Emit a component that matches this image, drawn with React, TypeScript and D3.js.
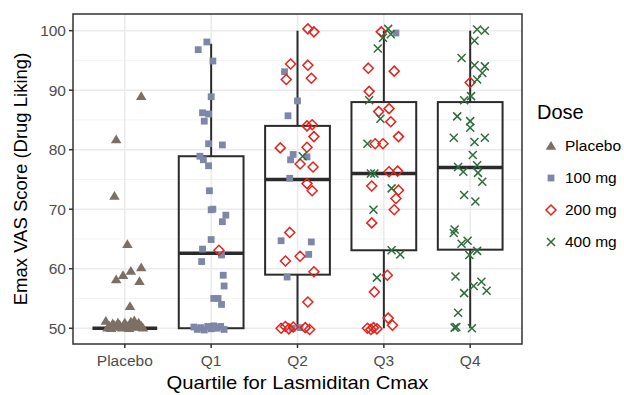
import * as d3 from 'd3'

const categories = ['Placebo', 'Q1', 'Q2', 'Q3', 'Q4']
const doses = ['Placebo', '100 mg', '200 mg', '400 mg']
const doseColors = ['#7d6f65', '#7f87a8', '#e3231d', '#2d6c3b']

// boxplot stats per category (ymin, lower hinge, median, upper hinge, ymax)
const boxMin = [50, 50, 50, 50, 50]
const boxLower = [50, 50, 59, 63.1, 63.2]
const boxMedian = [50, 62.6, 75, 76, 77]
const boxUpper = [50, 78.9, 84, 88, 88]
const boxMax = [50, 97.8, 100, 100, 100]

// jittered points: [category index, dose index, jitter (category units), score]
const placeboPts: number[][] = [
  [0, 0, 0.19, 89.0], [0, 0, -0.10, 81.7], [0, 0, -0.12, 72.2], [0, 0, 0.03, 64.1],
  [0, 0, -0.10, 58.2], [0, 0, -0.02, 58.9], [0, 0, 0.07, 59.6], [0, 0, 0.19, 60.2],
  [0, 0, 0.17, 57.9], [0, 0, 0.06, 53.7],
  [0, 0, -0.22, 51.2], [0, 0, -0.18, 50.4], [0, 0, -0.14, 50.8], [0, 0, -0.10, 50.2],
  [0, 0, -0.06, 50.6], [0, 0, -0.03, 50.1], [0, 0, 0.0, 50.9], [0, 0, 0.03, 50.3],
  [0, 0, 0.07, 51.1], [0, 0, 0.10, 50.5], [0, 0, 0.13, 50.2], [0, 0, 0.16, 50.9],
  [0, 0, 0.19, 50.4], [0, 0, 0.21, 50.1], [0, 0, -0.20, 50.1], [0, 0, -0.08, 50.9],
  [0, 0, 0.11, 51.3], [0, 0, -0.16, 50.0], [0, 0, 0.05, 50.0], [0, 0, -0.12, 50.5],
  [0, 0, 0.08, 50.3], [0, 0, -0.01, 50.6]
]
const q1Pts: number[][] = [
  [1, 1, -0.15, 96.8], [1, 1, -0.05, 98.1], [1, 1, 0.02, 94.9], [1, 1, 0, 88.9],
  [1, 1, -0.10, 86.2], [1, 1, -0.03, 86.0], [1, 1, -0.08, 84.8], [1, 1, -0.03, 81.0],
  [1, 1, 0.13, 80.8], [1, 1, -0.13, 78.9], [1, 1, -0.09, 78.3], [1, 1, -0.03, 77.3],
  [1, 1, -0.02, 73.1], [1, 1, 0, 69.9], [1, 1, 0.02, 70.0], [1, 1, 0.17, 69.0],
  [1, 1, 0.13, 67.9], [1, 1, 0, 64.9], [1, 1, -0.10, 63.3], [1, 1, 0.12, 62.3],
  [1, 1, -0.11, 61.2], [1, 1, 0.14, 58.9], [1, 1, 0.15, 57.1], [1, 1, 0.03, 55.0],
  [1, 1, 0.08, 55.0], [1, 1, 0.12, 54.0],
  [1, 1, -0.20, 50.2], [1, 1, -0.16, 49.8], [1, 1, -0.12, 50.1], [1, 1, -0.08, 49.7],
  [1, 1, -0.04, 50.3], [1, 1, 0, 49.9], [1, 1, 0.03, 50.4], [1, 1, 0.07, 50.0],
  [1, 1, 0.11, 50.3], [1, 1, 0.15, 49.8],
  [1, 2, 0.09, 63.1]
]
const q2Pts: number[][] = [
  [2, 1, -0.15, 93.1], [2, 1, 0, 88.2], [2, 1, -0.11, 85.7], [2, 1, -0.05, 79.2],
  [2, 1, -0.08, 78.3], [2, 1, 0.11, 78.8], [2, 1, -0.09, 75.2], [2, 1, -0.19, 64.7],
  [2, 1, 0.16, 64.5], [2, 1, 0.13, 62.4], [2, 1, -0.12, 58.6], [2, 1, -0.06, 50.0],
  [2, 1, 0.03, 50.1],
  [2, 2, 0.12, 100.3], [2, 2, 0.19, 99.8], [2, 2, -0.08, 94.4], [2, 2, 0.12, 94.2],
  [2, 2, -0.13, 91.8], [2, 2, 0.16, 92.0], [2, 2, 0.11, 84.0], [2, 2, 0.17, 84.2],
  [2, 2, 0.19, 82.2], [2, 2, -0.20, 80.3], [2, 2, 0.11, 80.4], [2, 2, 0.03, 77.6],
  [2, 2, 0.18, 77.1], [2, 2, 0.11, 74.3], [2, 2, 0.17, 73.1], [2, 2, -0.09, 66.1],
  [2, 2, -0.14, 61.3], [2, 2, 0.03, 62.1], [2, 2, 0.19, 59.5], [2, 2, 0.12, 54.4],
  [2, 2, -0.19, 50.0], [2, 2, -0.14, 50.3], [2, 2, -0.10, 49.9], [2, 2, -0.05, 50.2],
  [2, 2, 0.09, 50.1], [2, 2, 0.14, 49.8],
  [2, 3, 0.06, 78.9]
]
const q3Pts: number[][] = [
  [3, 1, 0.14, 99.6],
  [3, 2, -0.03, 99.8], [3, 2, -0.18, 93.7], [3, 2, 0.12, 93.2], [3, 2, -0.17, 89.8],
  [3, 2, 0.06, 86.9], [3, 2, -0.06, 86.4], [3, 2, 0.08, 84.7], [3, 2, 0.17, 82.2],
  [3, 2, -0.10, 81.0], [3, 2, -0.01, 81.0], [3, 2, 0.06, 76.3], [3, 2, 0.16, 76.4],
  [3, 2, -0.14, 73.9], [3, 2, 0.17, 73.2], [3, 2, 0.14, 71.8], [3, 2, 0.12, 69.9],
  [3, 2, -0.14, 67.7], [3, 2, 0.04, 58.9], [3, 2, -0.11, 56.1], [3, 2, 0.05, 51.7],
  [3, 2, 0.10, 50.5], [3, 2, -0.19, 50.0], [3, 2, -0.15, 49.8], [3, 2, -0.12, 50.1],
  [3, 2, -0.08, 49.9],
  [3, 3, 0.05, 100.3], [3, 3, 0.08, 99.4], [3, 3, -0.01, 98.8], [3, 3, -0.07, 97.0],
  [3, 3, -0.17, 88.3], [3, 3, -0.04, 85.2], [3, 3, -0.19, 81.0], [3, 3, -0.15, 76.0],
  [3, 3, -0.11, 76.0], [3, 3, 0.09, 73.5], [3, 3, -0.12, 69.9], [3, 3, 0.09, 63.1],
  [3, 3, 0.19, 62.4], [3, 3, -0.08, 58.5]
]
const q4Pts: number[][] = [
  [4, 2, 0, 91.3],
  [4, 3, 0.08, 100.2], [4, 3, 0.17, 100.0], [4, 3, 0.05, 98.3], [4, 3, -0.10, 95.4],
  [4, 3, 0.05, 94.2], [4, 3, 0.17, 94.0], [4, 3, 0.14, 92.9], [4, 3, 0.08, 91.8],
  [4, 3, -0.07, 88.3], [4, 3, 0.01, 89.0], [4, 3, -0.15, 85.6], [4, 3, 0, 84.8],
  [4, 3, 0, 83.7], [4, 3, -0.19, 82.0], [4, 3, 0.17, 82.0], [4, 3, 0.05, 81.3],
  [4, 3, 0.03, 79.1], [4, 3, -0.14, 77.1], [4, 3, -0.08, 76.3], [4, 3, 0.08, 77.4],
  [4, 3, 0.09, 76.1], [4, 3, 0.14, 74.6], [4, 3, -0.07, 72.4], [4, 3, 0.06, 71.3],
  [4, 3, -0.18, 66.6], [4, 3, -0.19, 66.0], [4, 3, -0.10, 64.2], [4, 3, -0.03, 64.7],
  [4, 3, -0.01, 62.3], [4, 3, 0.08, 63.0], [4, 3, -0.17, 58.7], [4, 3, 0.13, 57.8],
  [4, 3, 0.04, 57.1], [4, 3, 0.19, 56.3], [4, 3, -0.07, 55.9], [4, 3, -0.14, 52.6],
  [4, 3, -0.18, 50.1], [4, 3, -0.16, 50.2], [4, 3, 0.02, 50.0]
]

const yTicks = [50, 60, 70, 80, 90, 100]
const yMinor = [55, 65, 75, 85, 95]

const W = 624
const H = 395
const panel = { left: 73, right: 522, top: 14, bottom: 344 }
const font = 'Liberation Sans, Arial, Helvetica, sans-serif'

function Marker({ dose, x, y }: { dose: number; x: number; y: number }) {
  const c = doseColors[dose]
  if (dose === 0) {
    const s = 5
    return <path d={`M${x},${y - s}L${x + s * 1.05},${y + s * 0.75}L${x - s * 1.05},${y + s * 0.75}Z`} fill={c} />
  }
  if (dose === 1) {
    return <rect x={x - 3.4} y={y - 3.4} width={6.8} height={6.8} fill={c} />
  }
  if (dose === 2) {
    const s = 5
    return <path d={`M${x},${y - s}L${x + s},${y}L${x},${y + s}L${x - s},${y}Z`} fill="none" stroke={c} strokeWidth={1.5} />
  }
  const s = 4
  return <path d={`M${x - s},${y - s}L${x + s},${y + s}M${x - s},${y + s}L${x + s},${y - s}`} stroke={c} strokeWidth={1.5} fill="none" />
}

export default function App() {
  const x = d3.scalePoint<string>().domain(categories).range([panel.left, panel.right]).padding(0.6)
  const step = x.step()
  const y = d3.scaleLinear().domain([47.35, 102.8]).range([panel.bottom, panel.top])
  const boxW = step * 0.75
  const allPts = [...placeboPts, ...q1Pts, ...q2Pts, ...q3Pts, ...q4Pts]

  return (
    <svg width={W} height={H} style={{ position: 'absolute', left: 0, top: 0, background: '#fff' }} fontFamily={font}>
      <rect x={0} y={0} width={W} height={H} fill="#fff" />
      {/* grid */}
      {yMinor.map(v => (
        <line key={'mi' + v} x1={panel.left} x2={panel.right} y1={y(v)} y2={y(v)} stroke="#f3f3f3" strokeWidth={1} />
      ))}
      {yTicks.map(v => (
        <line key={'ma' + v} x1={panel.left} x2={panel.right} y1={y(v)} y2={y(v)} stroke="#ebebeb" strokeWidth={1.5} />
      ))}
      {categories.map(c => (
        <line key={'vg' + c} x1={x(c)} x2={x(c)} y1={panel.top} y2={panel.bottom} stroke="#ebebeb" strokeWidth={1.5} />
      ))}
      {/* boxplots */}
      {categories.map((c, i) => {
        const cx = x(c) as number
        return (
          <g key={'box' + c} stroke="#2b2b2b" fill="none">
            <line x1={cx} x2={cx} y1={y(boxUpper[i])} y2={y(boxMax[i])} strokeWidth={2} />
            <line x1={cx} x2={cx} y1={y(boxLower[i])} y2={y(boxMin[i])} strokeWidth={2} />
            <rect x={cx - boxW / 2} y={y(boxUpper[i])} width={boxW} height={y(boxLower[i]) - y(boxUpper[i])} strokeWidth={2} />
            <line x1={cx - boxW / 2} x2={cx + boxW / 2} y1={y(boxMedian[i])} y2={y(boxMedian[i])} strokeWidth={3.5} />
          </g>
        )
      })}
      {/* points */}
      {allPts.map((p, i) => (
        <Marker key={'pt' + i} dose={p[1]} x={(x(categories[p[0]]) as number) + p[2] * step} y={y(p[3])} />
      ))}
      {/* panel border */}
      <rect x={panel.left} y={panel.top} width={panel.right - panel.left} height={panel.bottom - panel.top} fill="none" stroke="#333" strokeWidth={1.5} />
      {/* y axis */}
      {yTicks.map(v => (
        <g key={'yt' + v}>
          <line x1={panel.left - 4} x2={panel.left} y1={y(v)} y2={y(v)} stroke="#333" strokeWidth={1.5} />
          <text x={panel.left - 7} y={y(v)} dy="0.35em" textAnchor="end" fontSize={15.5} fill="#4d4d4d">{v}</text>
        </g>
      ))}
      {/* x axis */}
      {categories.map(c => (
        <g key={'xt' + c}>
          <line x1={x(c)} x2={x(c)} y1={panel.bottom} y2={panel.bottom + 4} stroke="#333" strokeWidth={1.5} />
          <text x={x(c)} y={panel.bottom + 22} textAnchor="middle" fontSize={15.5} fill="#4d4d4d">{c}</text>
        </g>
      ))}
      <text x={(panel.left + panel.right) / 2} y={389} textAnchor="middle" fontSize={19} textLength={262} lengthAdjust="spacingAndGlyphs" fill="#000">Quartile for Lasmiditan Cmax</text>
      <text transform={`translate(27,${(panel.top + panel.bottom) / 2}) rotate(-90)`} textAnchor="middle" fontSize={18.5} fill="#000">Emax VAS Score (Drug Liking)</text>
      {/* legend */}
      <text x={537} y={119} fontSize={20} fill="#000">Dose</text>
      {doses.map((d, i) => (
        <g key={'lg' + d}>
          <Marker dose={i} x={551} y={146 + i * 32} />
          <text x={565} y={146 + i * 32} dy="0.35em" fontSize={15.5} fill="#000">{d}</text>
        </g>
      ))}
    </svg>
  )
}
